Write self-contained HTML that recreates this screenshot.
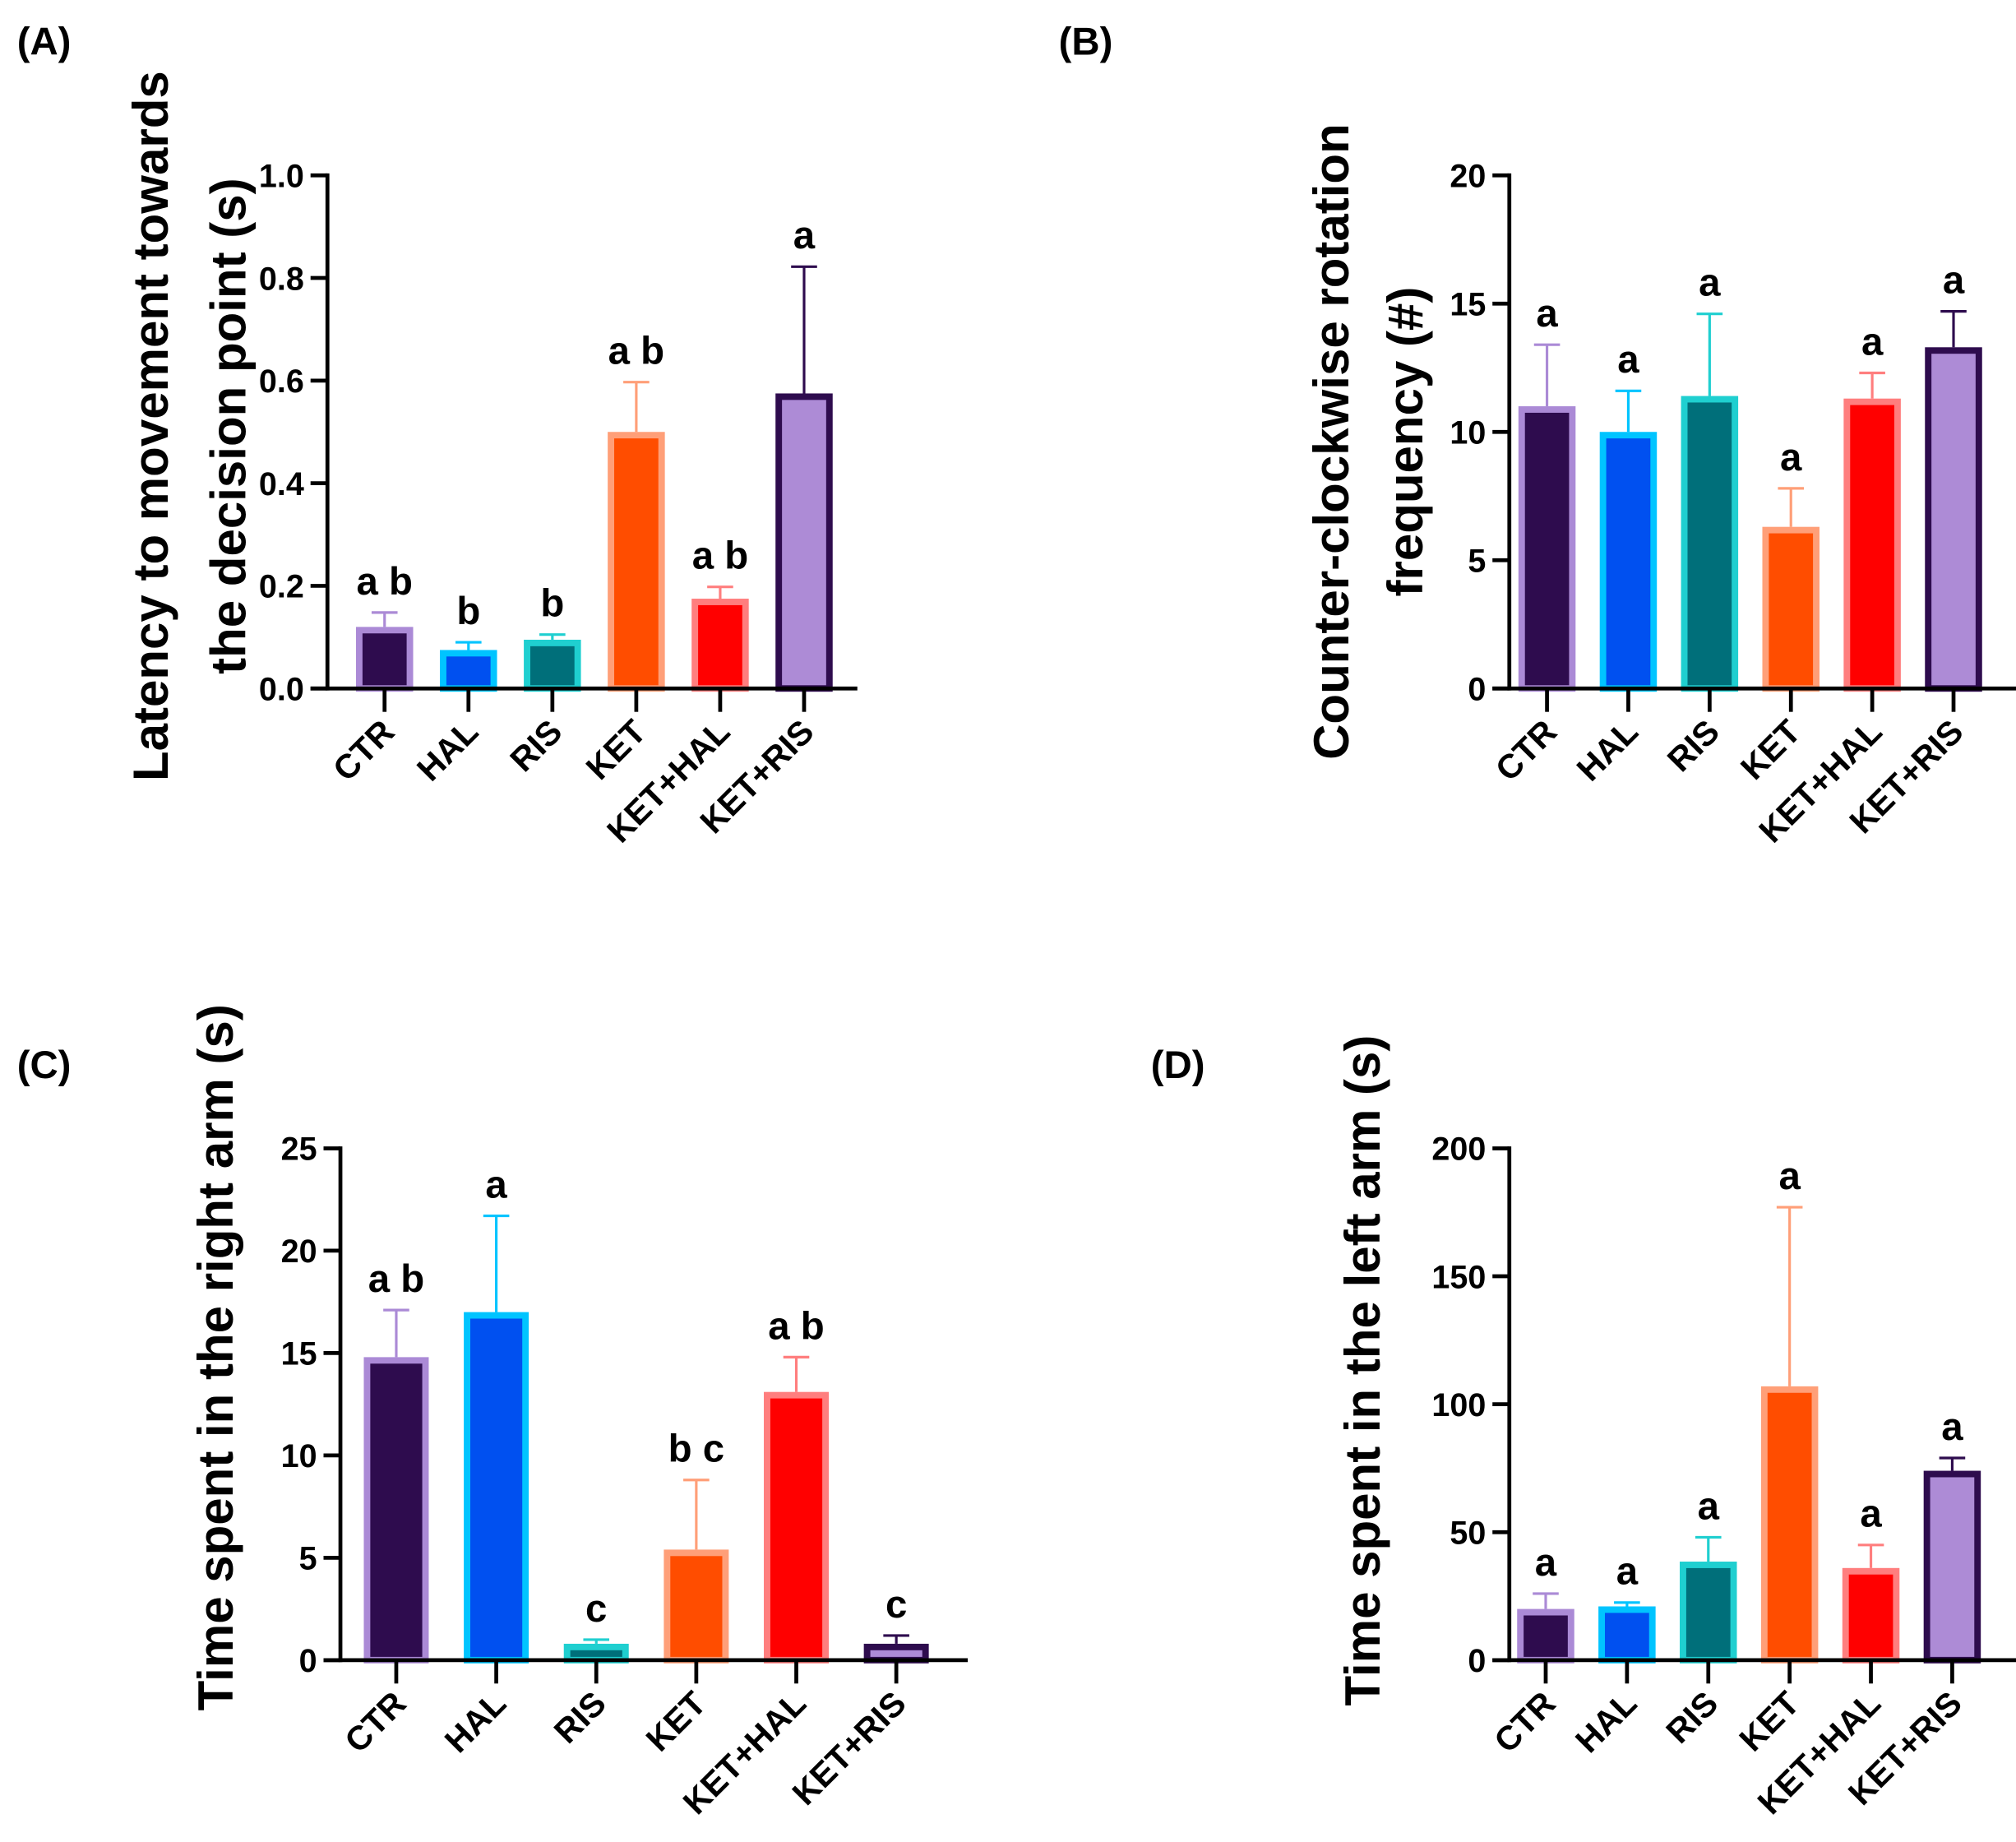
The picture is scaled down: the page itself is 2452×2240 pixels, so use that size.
<!DOCTYPE html>
<html><head><meta charset="utf-8"><style>
html,body{margin:0;padding:0;background:#fff;}
svg{display:block;font-family:"Liberation Sans",Arial,sans-serif;font-weight:bold;}
</style></head><body>
<svg id="fig" width="2452" height="2240" viewBox="0 0 1552 1418" xmlns="http://www.w3.org/2000/svg"></svg>
<script>
const groups = ["CTR","HAL","RIS","KET","KET+HAL","KET+RIS"];
const fills = ["#2e0c4e","#0050f0","#006f7a","#ff4d00","#ff0000","#ad8bd6"];
const borders = ["#ab8ad6","#00c4ff","#1fcfd0","#ff9f78","#ff7e7e","#2e0c4e"];

const meanA = [0.12,0.075,0.095,0.50,0.175,0.575];
const errA = [0.148,0.09,0.105,0.597,0.198,0.822];
const letA = ["a b","b","b","a b","a b","a"];
const ticksA = [0,0.2,0.4,0.6,0.8,1.0];
const tickLabA = ["0.0","0.2","0.4","0.6","0.8","1.0"];

const meanB = [11.0,10.0,11.4,6.3,11.3,13.3];
const errB = [13.4,11.6,14.6,7.8,12.3,14.7];
const letB = ["a","a","a","a","a","a"];
const ticksB = [0,5,10,15,20];

const meanC = [14.8,17.0,0.8,5.4,13.1,0.8];
const errC = [17.1,21.7,1.0,8.8,14.8,1.2];
const letC = ["a b","a","c","b c","a b","c"];
const ticksC = [0,5,10,15,20,25];

const meanD = [20,21,38.5,107,36,74];
const errD = [26,22.5,48,177,45,79];
const letD = ["a","a","a","a","a","a"];
const ticksD = [0,50,100,150,200];

const NS="http://www.w3.org/2000/svg";
const svg=document.getElementById('fig');
function mk(tag,attrs,parent){const e=document.createElementNS(NS,tag);for(const k in attrs)e.setAttribute(k,attrs[k]);(parent||svg).appendChild(e);return e;}

function panel(cfg){
  const g=mk('g',{});
  
  
  const y=v=>cfg.y0-(v/cfg.max)*(cfg.y0-cfg.yTop);
  const cx=i=>cfg.c0+i*cfg.step;
  const bw=cfg.bw;
  const pl=mk('text',{x:cfg.lx,y:cfg.ly,'font-size':30},g);pl.textContent='('+cfg.id.toUpperCase()+')';
  
  
  groups.forEach((name,i)=>{
    const top=y(cfg.mean[i]), et=y(cfg.err[i]);
    const eb=mk('line',{x1:cx(i),x2:cx(i),y1:top,y2:et,stroke:borders[i],'stroke-width':2},g);
    
    
    mk('line',{x1:cx(i)-10,x2:cx(i)+10,y1:et,y2:et,stroke:borders[i],'stroke-width':2},g);
    const r=mk('rect',{x:cx(i)-bw/2+2.5,y:top+2.5,width:bw-5,height:Math.max(0,cfg.y0-top-2.5),fill:fills[i],stroke:borders[i],'stroke-width':5},g);
    
    
    const lt=mk('text',{x:cx(i),y:et-14,'font-size':30,'text-anchor':'middle'},g);lt.textContent=cfg.letters[i];
    
    
    mk('line',{x1:cx(i),x2:cx(i),y1:cfg.y0,y2:cfg.y0+18,stroke:'#000','stroke-width':3},g);
    const tl=mk('text',{transform:`translate(${cx(i)+9},${cfg.y0+35}) rotate(-45)`,'font-size':26,'text-anchor':'end'},g);tl.textContent=name;
    
    
  });
  const ya=mk('line',{x1:cfg.ax,x2:cfg.ax,y1:cfg.yTop-1.5,y2:cfg.y0+1.5,stroke:'#000','stroke-width':3},g);
  
  
  const xa=mk('line',{x1:cfg.ax-13,x2:cfg.xEnd,y1:cfg.y0,y2:cfg.y0,stroke:'#000','stroke-width':3},g);
  
  
  cfg.ticks.forEach((t,k)=>{
    mk('line',{x1:cfg.ax-13,x2:cfg.ax,y1:y(t),y2:y(t),stroke:'#000','stroke-width':3},g);
    const tt=mk('text',{x:cfg.ax-18,y:y(t)+9,'font-size':25,'text-anchor':'end'},g);
    tt.textContent=cfg.tickLab?cfg.tickLab[k]:String(t);
    
    
  });
  cfg.title.forEach((line,k)=>{
    const tx=cfg.tx+k*cfg.tdx;
    const t=mk('text',{transform:`translate(${tx},${cfg.tyc}) rotate(-90)`,'font-size':38,'text-anchor':'middle'},g);
    t.textContent=line;
    
    
  });
}
panel({id:'a',ax:252,yTop:135,y0:530,xEnd:660,c0:296,step:64.6,bw:44,max:1.0,mean:meanA,err:errA,letters:letA,ticks:ticksA,tickLab:tickLabA,lx:13,ly:42,title:["Latency to movement towards","the decision point (s)"],tx:129,tdx:60,tyc:328});
panel({id:'b',ax:1162,yTop:135,y0:530,xEnd:1560,c0:1191,step:62.6,bw:44,max:20,mean:meanB,err:errB,letters:letB,ticks:ticksB,lx:815,ly:42,title:["Counter-clockwise rotation","frequency (#)"],tx:1038,tdx:57,tyc:340});
panel({id:'c',ax:262,yTop:884,y0:1278,xEnd:745,c0:305,step:77,bw:50,max:25,mean:meanC,err:errC,letters:letC,ticks:ticksC,lx:13,ly:830,title:["Time spent in the right arm (s)"],tx:179,tdx:0,tyc:1045});
panel({id:'d',ax:1162,yTop:884,y0:1278,xEnd:1555,c0:1190,step:62.6,bw:44,max:200,mean:meanD,err:errD,letters:letD,ticks:ticksD,lx:886,ly:830,title:["Time spent in the left arm (s)"],tx:1062,tdx:0,tyc:1055});
</script>
</body></html>
